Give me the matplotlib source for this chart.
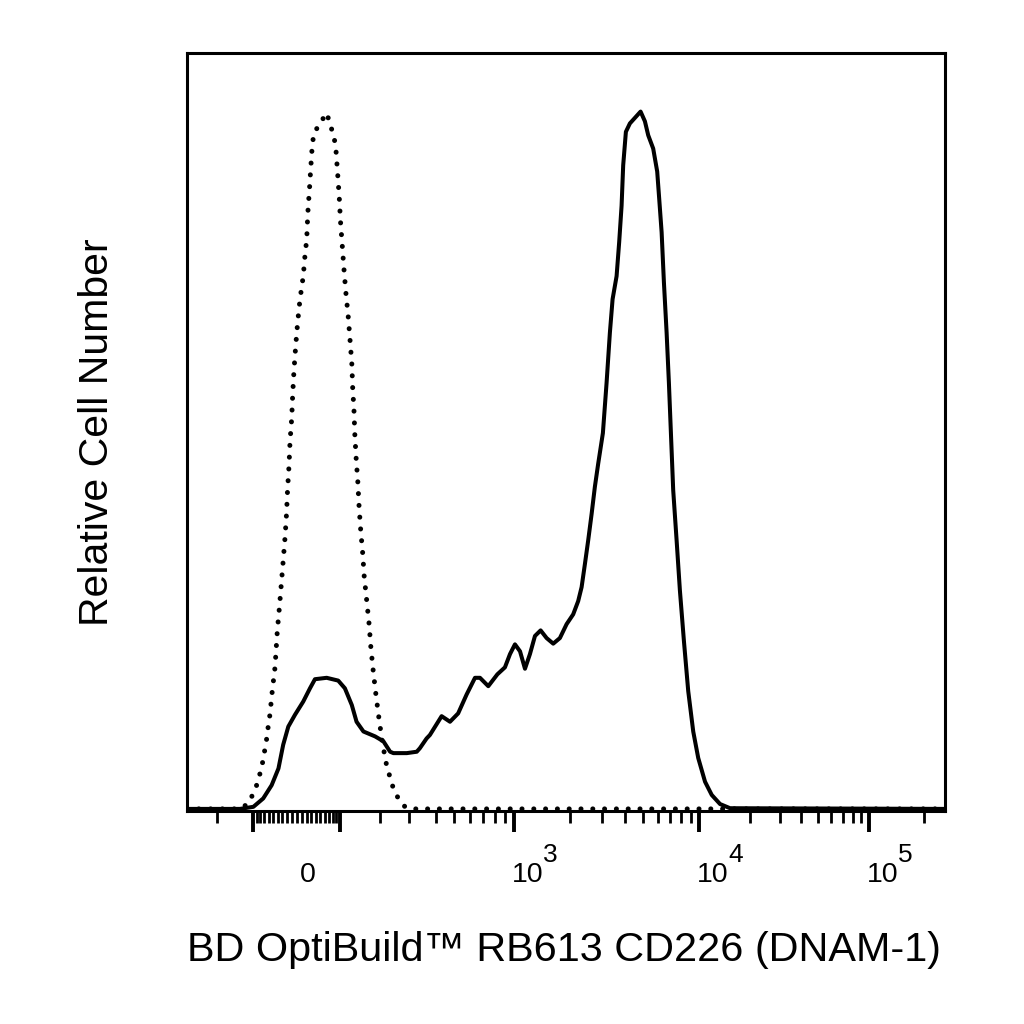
import numpy as np
import matplotlib
matplotlib.use("Agg")
import matplotlib.pyplot as plt

plt.rcParams['font.family'] = ['Liberation Sans', 'DejaVu Sans']

# ---------------- data ----------------
# Isotype control (dotted) : fluorescence intensity vs relative count (% of max)
CONTROL_INTENSITY = [-300, -142, -127, -111, -101, -90, -81, -74, -69, -64.5, -61, -57, -51.5,
                     -45.5, -40.5, -36, -32, -28, -24, -21, -19, -16, -14, -10.6, -8.6, -6, -2.6,
                     1.4, 6.2, 12.9, 17.1, 20.0, 22.1, 23.4, 25.5, 28.5, 31.9, 35.5, 48.9, 64.7,
                     75.5, 84, 88.7, 93.4, 98, 101, 104.5, 108, 112, 117, 121, 125, 127, 130, 132,
                     135, 139, 142, 146, 151, 155, 161.5, 168, 173, 180, 188, 197, 207, 220, 231,
                     242, 259, 284, 310, 262144]
CONTROL_COUNT = [0, 0, 0.1, 0.8, 2.0, 3.4, 5.1, 6.8, 8.5, 10.1, 11.8, 13.5, 17.0, 20.3, 25.5,
                 28.9, 32.2, 35.6, 39.1, 42.5, 45.8, 49.3, 52.7, 56.0, 59.5, 62.9, 66.4, 69.8,
                 73.1, 76.4, 79.9, 81.5, 85.0, 86.6, 88.4, 91.8, 95.2, 96.9, 98.3, 99.8, 97.8,
                 96.2, 94.5, 91.1, 87.7, 84.3, 80.9, 77.5, 74.1, 70.7, 67.3, 63.9, 60.4, 57.1,
                 53.6, 50.3, 46.9, 43.4, 40.0, 36.7, 33.3, 29.9, 26.5, 23.1, 19.6, 16.2, 12.9,
                 9.5, 6.2, 4.5, 2.9, 1.5, 0.3, 0, 0]

# CD226 stained sample (solid)
SAMPLE_INTENSITY = [-300, -131, -99, -73, -53, -38, -28, -17.5, -4, 12.9, 27, 37.7, 64.7, 95,
                    110, 125, 136, 153, 185, 210, 231, 242, 291, 326, 337, 362, 375, 429, 476,
                    525, 579, 638, 676, 744, 826, 901, 955, 1012, 1078, 1147, 1220, 1299, 1394,
                    1502, 1631, 1772, 1927, 2091, 2225, 2322, 2419, 2520, 2630, 2739, 2854, 3026,
                    3168, 3301, 3414, 3588, 3706, 3818, 3895, 4028, 4233, 4836, 5103, 5317, 5656,
                    5945, 6095, 6281, 6463, 6683, 6876, 7050, 7254, 7568, 7885, 8286, 8743, 9305,
                    9901, 10847, 11880, 13290, 15220, 262144]
SAMPLE_COUNT = [0, 0, 0.3, 1.5, 3.4, 5.8, 9.2, 11.8, 13.5, 15.4, 17.3, 18.6, 18.8, 18.4, 17.3,
                14.9, 12.5, 11.1, 10.4, 9.7, 8.2, 8.0, 8.0, 8.2, 8.7, 10.1, 10.6, 13.3, 12.5,
                13.7, 16.4, 18.8, 18.8, 17.6, 19.3, 20.3, 22.2, 23.6, 22.6, 20.1, 22.2, 24.8,
                25.6, 24.5, 23.7, 24.5, 26.5, 27.9, 29.8, 31.8, 35.1, 38.5, 42.3, 46.2, 49.5,
                53.9, 61.1, 68.3, 73.1, 76.4, 81.3, 86.5, 92.3, 97.1, 98.3, 100, 98.6, 96.6,
                94.7, 91.4, 87.5, 82.7, 75.5, 68.3, 61.1, 53.9, 45.7, 38.5, 31.3, 24.1, 16.9,
                11.1, 7.3, 3.9, 2.0, 0.7, 0.1, 0]

MAJOR_TICKS = [-100, 100, 1000, 10000, 100000]
MINOR_TICKS = ([-200] + list(range(-90, 0, 10)) + [0] + list(range(10, 100, 10))
               + list(range(200, 1000, 100)) + list(range(2000, 10000, 1000))
               + list(range(20000, 100000, 10000)) + [200000])
TICK_LABELS = [(0, "0", ""), (1000, "10", "3"), (10000, "10", "4"), (100000, "10", "5")]

X_LABEL = "BD OptiBuild\u2122 RB613 CD226 (DNAM-1)"
Y_LABEL = "Relative Cell Number"

# ---------------- biexponential-like display scale ----------------
SCALE_W = 100.0
SCALE_VALUES = [-300, -200, -100, 0, 100, 200, 300, 400, 500, 1000, 1e4, 1e5, 262144]
SCALE_FRACTION = [0.0, 0.0396, 0.0871, 0.1451, 0.2018, 0.2546, 0.2929, 0.3285, 0.3522,
                  0.4314, 0.6755, 0.8997, 1.0]

_u = np.arcsinh(np.array(SCALE_VALUES, float) / SCALE_W)
_f = np.array(SCALE_FRACTION, float)
# linear extrapolation far outside the visible range
_ul, _ur = -20.0, 20.0
_fl = _f[0] - (_u[0] - _ul) * (_f[1] - _f[0]) / (_u[1] - _u[0])
_fr = _f[-1] + (_ur - _u[-1]) * (_f[-1] - _f[-2]) / (_u[-1] - _u[-2])
U_EXT = np.concatenate([[_ul], _u, [_ur]])
F_EXT = np.concatenate([[_fl], _f, [_fr]])


def forward(x):
    return np.interp(np.arcsinh(np.asarray(x, float) / SCALE_W), U_EXT, F_EXT)


def inverse(f):
    return SCALE_W * np.sinh(np.interp(np.asarray(f, float), F_EXT, U_EXT))


# ---------------- figure ----------------
fig = plt.figure(figsize=(10.24, 10.24), dpi=100)
ax = fig.add_axes([187 / 1024, 1 - 811 / 1024, 758 / 1024, 758 / 1024])
ax.set_xscale('function', functions=(forward, inverse))

ax.plot(CONTROL_INTENSITY, CONTROL_COUNT, color='black', lw=3.6,
        linestyle=(0, (0.01, 2.35)), dash_capstyle='round', solid_joinstyle='round')
ax.plot(SAMPLE_INTENSITY, SAMPLE_COUNT, color='black', lw=2.9,
        solid_joinstyle='round', solid_capstyle='round')

ax.set_xlim(-300, 262144)
ax.set_ylim(-0.3, 108.4)
ax.set_yticks([])

ax.set_xticks(MAJOR_TICKS)
ax.set_xticklabels([""] * len(MAJOR_TICKS))
ax.set_xticks(MINOR_TICKS, minor=True)
ax.tick_params(axis='x', which='major', direction='out', length=15, width=2.8, color='black')
ax.tick_params(axis='x', which='minor', direction='out', length=8.5, width=2.0, color='black')

for s in ax.spines.values():
    s.set_linewidth(2.2)
    s.set_color('black')

for val, base, exp in TICK_LABELS:
    dx = 2.0 if exp == "" else -1.5
    ax.annotate(base, xy=(val, 0), xycoords=('data', 'axes fraction'),
                xytext=(dx, -51.0), textcoords='offset points',
                ha='left', va='baseline', fontsize=20.5, color='black')
    if exp:
        ax.annotate(exp, xy=(val, 0), xycoords=('data', 'axes fraction'),
                    xytext=(dx + 22.6, -37.0), textcoords='offset points',
                    ha='left', va='baseline', fontsize=19, color='black')

fig.text(564 / 1024, 1 - 961 / 1024, X_LABEL, ha='center', va='baseline',
         fontsize=29.8, color='black')
fig.text(97 / 1024, 1 - 432 / 1024, Y_LABEL, ha='center', va='center', rotation=90,
         fontsize=29.5, color='black')

fig.savefig('out.png', dpi=100)
